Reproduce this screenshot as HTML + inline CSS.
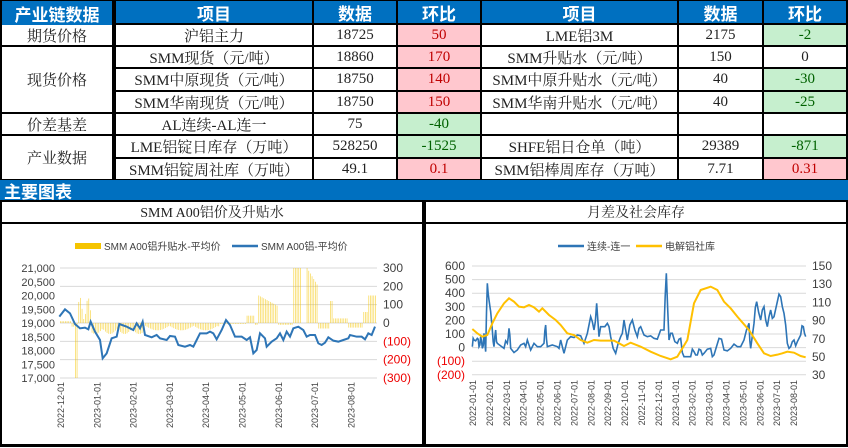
<!DOCTYPE html>
<html><head><meta charset="utf-8"><style>
body{margin:0;width:848px;height:448px;background:#000;position:relative;overflow:hidden;font-family:"Liberation Serif","Noto Serif CJK SC",serif;}
.c{position:absolute;background:#fff;display:flex;align-items:center;justify-content:center;font-size:15px;color:#222;white-space:nowrap;}
.h{background:#0070c0;color:#fff;font-weight:bold;font-family:"Liberation Sans","Noto Sans CJK SC",sans-serif;font-size:17px;}
.r{background:#ffc7ce;color:#c00000;}
.g{background:#c6efce;color:#006100;}
svg text{font-family:"Liberation Sans","Noto Sans CJK SC",sans-serif;}
</style></head><body>
<div id="t"></div>
<div class="c h" style="left:0;top:180px;width:848px;height:20px;justify-content:flex-start;padding-left:4px;box-sizing:border-box">主要图表</div>
<div class="c" style="left:2px;top:202px;width:420px;height:20px;font-size:14px">SMM A00铝价及升贴水</div>
<div class="c" style="left:426px;top:202px;width:420px;height:20px;font-size:14px">月差及社会库存</div>
<div class="c" style="left:2px;top:224px;width:420px;height:220px"></div>
<div class="c" style="left:426px;top:224px;width:420px;height:220px"></div>
<div class="c" style="left:0;top:447px;width:848px;height:1px"></div>
<svg id="s" width="848" height="448" style="position:absolute;left:0;top:0"></svg>
<script>
var X=[0,114,312,396,480,677,762,848],Y=[0,23,45,67,90,112,134,157,179];
var rows=[
[0,0,1,0,'产业链数据','h'],[1,0,2,1,'项目','h'],[2,0,3,1,'数据','h'],[3,0,4,1,'环比','h'],[4,0,5,1,'项目','h'],[5,0,6,1,'数据','h'],[6,0,7,1,'环比','h'],
[0,1,1,2,'期货价格'],[1,1,2,2,'沪铝主力'],[2,1,3,2,'18725'],[3,1,4,2,'50','r'],[4,1,5,2,'LME铝3M'],[5,1,6,2,'2175'],[6,1,7,2,'-2','g'],
[0,2,1,5,'现货价格'],[1,2,2,3,'SMM现货（元/吨）'],[2,2,3,3,'18860'],[3,2,4,3,'170','r'],[4,2,5,3,'SMM升贴水（元/吨）'],[5,2,6,3,'150'],[6,2,7,3,'0'],
[1,3,2,4,'SMM中原现货（元/吨）'],[2,3,3,4,'18750'],[3,3,4,4,'140','r'],[4,3,5,4,'SMM中原升贴水（元/吨）'],[5,3,6,4,'40'],[6,3,7,4,'-30','g'],
[1,4,2,5,'SMM华南现货（元/吨）'],[2,4,3,5,'18750'],[3,4,4,5,'150','r'],[4,4,5,5,'SMM华南升贴水（元/吨）'],[5,4,6,5,'40'],[6,4,7,5,'-25','g'],
[0,5,1,6,'价差基差'],[1,5,2,6,'AL连续-AL连一'],[2,5,3,6,'75'],[3,5,4,6,'-40','g'],[4,5,5,6,''],[5,5,6,6,''],[6,5,7,6,''],
[0,6,1,8,'产业数据'],[1,6,2,7,'LME铝锭日库存（万吨）'],[2,6,3,7,'528250'],[3,6,4,7,'-1525','g'],[4,6,5,7,'SHFE铝日仓单（吨）'],[5,6,6,7,'29389'],[6,6,7,7,'-871','g'],
[1,7,2,8,'SMM铝锭周社库（万吨）'],[2,7,3,8,'49.1'],[3,7,4,8,'0.1','r'],[4,7,5,8,'SMM铝棒周库存（万吨）'],[5,7,6,8,'7.71'],[6,7,7,8,'0.31','r']];
var h='';rows.forEach(function(r){var x0=X[r[0]]+2,y0=Y[r[1]]+(r[1]?2:1),w=X[r[2]]-X[r[0]]-2,hh=Y[r[3]]-Y[r[1]]-(r[1]?2:1);
if(r[0]==0)x0=2,w=X[r[2]]-4;if(r[2]==7)w=846-x0;
h+='<div class="c '+(r[5]||'')+'" style="left:'+x0+'px;top:'+y0+'px;width:'+w+'px;height:'+hh+'px">'+r[4]+'</div>';});
document.getElementById('t').innerHTML=h;
var s='';
function T(x,y,t,anchor,fill,fs){s+='<text x="'+x+'" y="'+y+'" text-anchor="'+anchor+'" style="font-size:'+(fs||12)+'px;fill:'+fill+'">'+t+'</text>';}
// left chart
for(var i=0;i<7;i++){var y=268+i*18.33;s+='<line x1="60" x2="377" y1="'+y+'" y2="'+y+'" stroke="#d9d9d9"/>';}
var pl=['21,000','20,500','20,000','19,500','19,000','18,500','18,000','17,500','17,000'];
for(i=0;i<9;i++)T(55,268+i*13.75+4,pl[i],'end','#404040',11);
var pr=['300','200','100','0','(100)','(200)','(300)'];
for(i=0;i<7;i++)T(383,268+i*18.33+4,pr[i],'start',i>3?'#e00':'#404040',12);
var ml=['2022-12-01','2023-01-01','2023-02-01','2023-03-01','2023-04-01','2023-05-01','2023-06-01','2023-07-01','2023-08-01'];
for(i=0;i<9;i++){var x=60+i*36.3+4;s+='<text transform="translate('+x+',382) rotate(-90)" text-anchor="end" style="font-size:9px;fill:#404040">'+ml[i]+'</text>';}
function bv(X){ if(X<215)return 10; if(X<225)return -20; if(X<233)return -300; if(X<272)return 80+60*Math.sin(X); if(X<432)return -30-30*Math.abs(Math.sin(X*0.7)); if(X<660)return -15-25*Math.abs(Math.sin(X*1.3)); if(X<740)return -5;if(X<762)return 40;if(X<775)return -10;if(X<835)return 150-(X-775);if(X<878)return -10;if(X<955)return (X<905||X>915)?300-(X>920?(X-920)*3:0):0;if(X<990)return -30;if(X<1000)return 120;if(X<1045)return 25;if(X<1090)return -25;if(X<1105)return 60;return 150;}
for(var X2=180;X2<1128;X2+=5){var v=bv(X2),x=X2/3,y0=323,y1=323-v*55/300;s+='<rect x="'+x+'" y="'+Math.min(y0,y1)+'" width="0.8" height="'+Math.abs(y1-y0)+'" fill="#f5c400" opacity="0.6"/>';}
var lb=[178,290,195,268,210,280,225,312,240,325,255,323,265,328,272,305,285,335,300,360,308,415,320,400,335,355,350,350,358,312,380,320,400,330,410,310,420,325,428,305,435,345,455,352,470,345,480,355,500,360,510,348,525,350,535,375,555,380,570,375,580,380,590,360,600,340,620,340,630,335,640,340,650,358,665,330,678,300,690,315,705,350,725,350,740,360,750,352,760,400,770,390,780,340,795,355,800,380,815,365,830,355,840,340,850,360,860,335,870,350,880,325,895,320,910,330,920,350,930,345,945,345,955,370,965,375,975,368,985,352,1000,362,1015,365,1030,360,1045,355,1050,345,1070,350,1085,350,1095,358,1105,340,1115,345,1125,320];
function pts(a,ox){var p='';for(var k=0;k<a.length;k+=2){p+=(ox+a[k]/3)+','+(220+a[k+1]/3)+' ';}return p;}
s+='<polyline points="'+pts(lb,0)+'" fill="none" stroke="#2e75b6" stroke-width="2"/>';
s+='<rect x="75" y="243" width="26" height="6" fill="#f5c400"/>';T(104,250,'SMM A00铝升贴水-平均价','start','#404040',10);
s+='<line x1="232" x2="258" y1="246" y2="246" stroke="#2e75b6" stroke-width="2.5"/>';T(261,250,'SMM A00铝-平均价','start','#404040',10);
// right chart
for(i=0;i<9;i++){var y=266+i*13.6;s+='<line x1="472" x2="806" y1="'+y+'" y2="'+y+'" stroke="#d9d9d9"/>';}
var rl=['600','500','400','300','200','100','0','(100)','(200)'];
for(i=0;i<9;i++)T(465,266+i*13.6+4,rl[i],'end',i>6?'#e00':'#404040',12);
var rr=['150','130','110','90','70','50','30'];
for(i=0;i<7;i++)T(812,266+i*18.2+4,rr[i],'start','#404040',12);
for(i=0;i<20;i++){var yy=2022+Math.floor(i/12),mm=i%12+1;var x=472+i*16.9+4;s+='<text transform="translate('+x+',380) rotate(-90)" text-anchor="end" style="font-size:9px;fill:#404040">'+yy+'-'+(mm<10?'0':'')+mm+'-01</text>';}
var rb=[145,380,150,360,160,355,165,380,170,350,175,385,180,340,185,395,190,190,195,240,205,330,210,380,215,330,220,370,240,385,250,370,255,325,260,385,280,390,300,370,310,360,320,390,340,380,360,370,365,315,370,380,400,380,410,360,420,400,440,350,460,345,480,370,500,290,510,330,518,250,525,350,535,320,550,310,560,350,575,400,590,350,600,300,610,360,625,300,640,350,650,320,670,350,690,355,710,330,720,330,727,160,735,360,745,340,760,370,770,355,780,410,800,410,810,395,820,405,830,390,840,400,860,385,870,405,885,355,900,390,920,385,940,380,960,360,975,310,980,385,990,310,998,245,1010,300,1020,260,1030,320,1040,270,1050,290,1060,245,1070,230,1080,280,1090,370,1100,380,1110,360,1120,365,1130,345,1138,320,1145,350];
// add noise for denser blue line
var rb2=[];for(var k=0;k<rb.length-2;k+=2){rb2.push(rb[k],rb[k+1]);var mx=(rb[k]+rb[k+2])/2,my=(rb[k+1]+rb[k+3])/2;rb2.push(mx,my+((k*37)%7-3)*5);}rb2.push(rb[rb.length-2],rb[rb.length-1]);
var ry=[145,327,160,340,175,350,190,345,205,310,220,280,240,250,255,235,270,245,285,260,300,262,315,255,330,262,345,275,355,265,375,285,395,300,410,315,430,340,450,345,470,360,490,368,510,360,530,362,570,362,600,378,620,368,650,380,680,395,710,408,740,418,760,410,790,360,810,250,830,210,860,200,880,210,900,245,920,265,940,290,960,313,975,330,1000,370,1020,400,1040,408,1060,404,1075,400,1090,395,1110,398,1130,408,1145,412];
s+='<polyline points="'+pts(rb2,424)+'" fill="none" stroke="#2e75b6" stroke-width="1.6"/>';
s+='<polyline points="'+pts(ry,424)+'" fill="none" stroke="#ffc000" stroke-width="2"/>';
s+='<line x1="558" x2="584" y1="246" y2="246" stroke="#2e75b6" stroke-width="2.5"/>';T(587,250,'连续-连一','start','#404040',10);
s+='<line x1="636" x2="662" y1="246" y2="246" stroke="#ffc000" stroke-width="2.5"/>';T(665,250,'电解铝社库','start','#404040',10);
document.getElementById('s').innerHTML=s;
</script>
</body></html>
